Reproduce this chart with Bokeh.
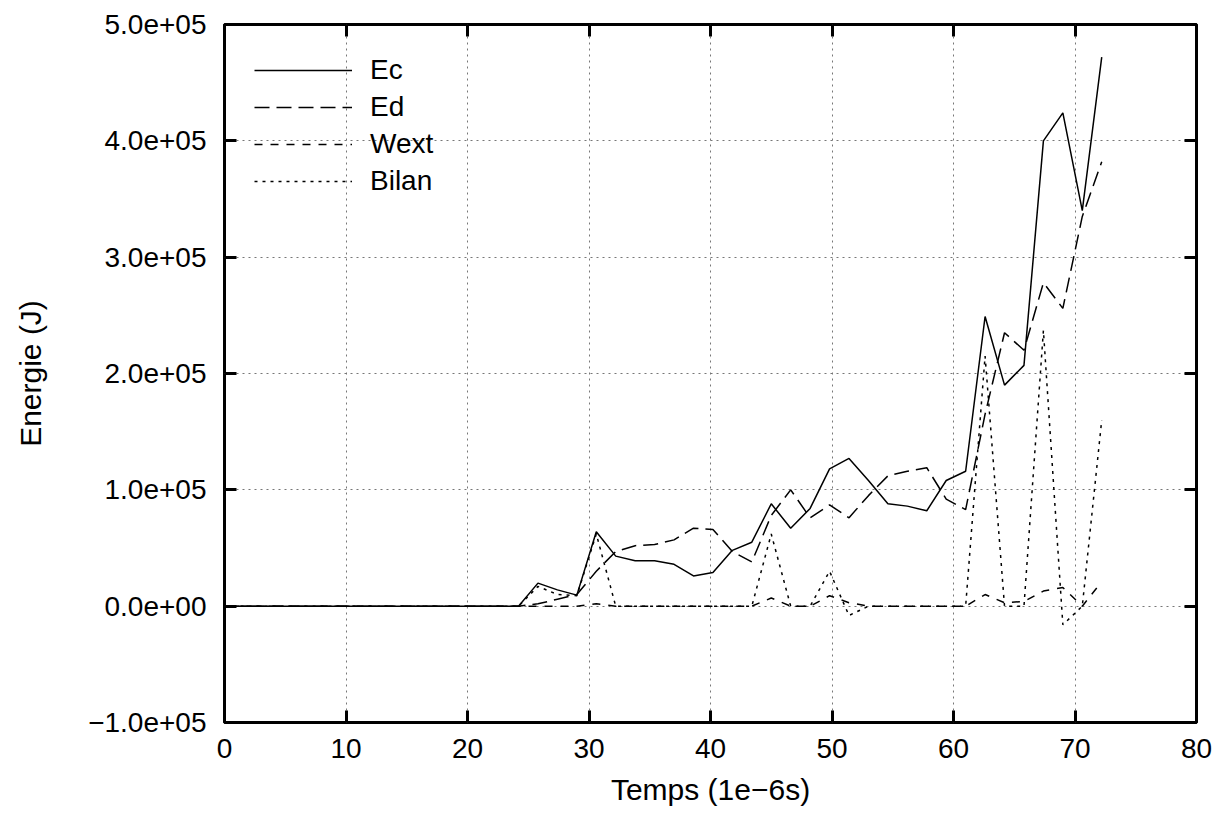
from bokeh.plotting import figure
from bokeh.models import LinearAxis, FixedTicker, Legend, LegendItem, Range1d
from bokeh.embed import file_html
from bokeh.resources import INLINE

temps = [0, 1.6, 3.2, 4.8, 6.4, 8.1, 9.7, 11.3, 12.9, 14.5, 16.1, 17.7, 19.4, 21.0, 22.6, 24.2,
         25.8, 27.4, 29.0, 30.6, 32.2, 33.8, 35.4, 37.0, 38.6, 40.2, 41.8, 43.4, 45.0, 46.6,
         48.2, 49.8, 51.4, 53.0, 54.6, 56.2, 57.8, 59.4, 61.0, 62.6, 64.2, 65.8, 67.4, 69.0,
         70.6, 72.2]
zeros = [0] * 16
ec = zeros + [19.8e3, 14e3, 9.5e3, 64e3, 43e3, 39e3, 39e3, 36e3, 26e3, 29e3, 48e3, 55e3, 88e3,
              67e3, 84e3, 118e3, 127e3, 108e3, 88e3, 86e3, 82e3, 108e3, 116e3, 249e3, 190e3,
              207e3, 400e3, 424e3, 340e3, 472e3]
ed = zeros + [2e3, 6e3, 10e3, 30e3, 47e3, 52e3, 53e3, 57e3, 67e3, 66e3, 47e3, 38e3, 78e3,
              100e3, 76e3, 87e3, 76e3, 95e3, 112e3, 116e3, 119e3, 92e3, 83e3, 165e3, 235e3,
              220e3, 278e3, 256e3, 335e3, 382e3]
wext = zeros + [0, 0, 0, 2e3, 0, 0, 0, 0, 0, 0, 0, 0, 7e3, 0, 0, 9e3, 3e3, 0, 0, 0, 0, 0, 0,
                10e3, 3e3, 4e3, 13e3, 16e3, 0, 21e3]
bilan = zeros + [17e3, 10e3, 9e3, 62e3, 0, 0, 0, 0, 0, 0, 0, 0, 62e3, 0, 0, 30e3, -8e3, 0, 0,
                 0, 0, 0, 0, 215e3, 0, 0, 237e3, -16e3, 0, 160e3]

x_ticks = [0, 10, 20, 30, 40, 50, 60, 70, 80]
y_ticks = [-1e5, 0, 1e5, 2e5, 3e5, 4e5, 5e5]
y_labels = ["\u22121.0e+05", "0.0e+00", "1.0e+05", "2.0e+05", "3.0e+05", "4.0e+05", "5.0e+05"]

FONT = "Liberation Sans"

p = figure(width=1220, height=812, output_backend="svg", toolbar_location=None,
           x_range=Range1d(0, 80), y_range=Range1d(-1e5, 5e5),
           min_border_left=224, min_border_right=24, min_border_top=24, min_border_bottom=90,
           x_axis_label="Temps (1e\u22126s)", y_axis_label="Energie (J)")
p.outline_line_color = "black"
p.outline_line_width = 3

for ax in (p.xaxis[0], p.yaxis[0]):
    ax.major_label_text_font = FONT
    ax.major_label_text_font_size = "28px"
    ax.major_label_text_color = "black"
    ax.axis_label_text_font = FONT
    ax.axis_label_text_font_size = "30px"
    ax.axis_label_text_font_style = "normal"
    ax.axis_label_text_color = "black"
    ax.major_tick_in = 12
    ax.major_tick_out = 0
    ax.major_tick_line_width = 3
    ax.minor_tick_line_color = None
    ax.axis_line_color = None
p.xaxis.ticker = FixedTicker(ticks=x_ticks)
p.yaxis.ticker = FixedTicker(ticks=y_ticks)
p.yaxis.major_label_overrides = {t: l for t, l in zip(y_ticks, y_labels)}
p.xaxis.major_label_standoff = 16
p.yaxis.major_label_standoff = 18
p.xaxis.axis_label_standoff = 12
p.yaxis.axis_label_standoff = 38

# mirrored ticks on the right and top, no labels
for loc, tick in (("right", y_ticks), ("above", x_ticks)):
    ax = LinearAxis(ticker=FixedTicker(ticks=tick), major_label_text_font_size="0px",
                    major_label_overrides={t: "" for t in tick},
                    major_tick_in=12, major_tick_out=0, major_tick_line_width=3,
                    minor_tick_line_color=None, axis_line_color=None)
    p.add_layout(ax, loc)

p.grid.grid_line_color = "#777777"
p.grid.grid_line_dash = "2 4"
p.xgrid.ticker = FixedTicker(ticks=x_ticks)
p.ygrid.ticker = FixedTicker(ticks=y_ticks)

r1 = p.line(temps, ec, line_color="black", line_width=1.5)
r2 = p.line(temps, ed, line_color="black", line_width=1.5, line_dash="15 7")
r3 = p.line(temps, wext, line_color="black", line_width=1.5, line_dash="8 8")
r4 = p.line(temps, bilan, line_color="black", line_width=1.5, line_dash="3 5")

legend = Legend(items=[LegendItem(label="Ec", renderers=[r1]),
                       LegendItem(label="Ed", renderers=[r2]),
                       LegendItem(label="Wext", renderers=[r3]),
                       LegendItem(label="Bilan", renderers=[r4])],
                location="top_left", glyph_width=98, glyph_height=30, spacing=5,
                label_standoff=18, label_text_font=FONT, label_text_color="black",
                label_text_font_size="28px", border_line_color=None,
                background_fill_alpha=0, margin=30, padding=0)
p.add_layout(legend)

open("out.html", "w").write(file_html(p, INLINE))
